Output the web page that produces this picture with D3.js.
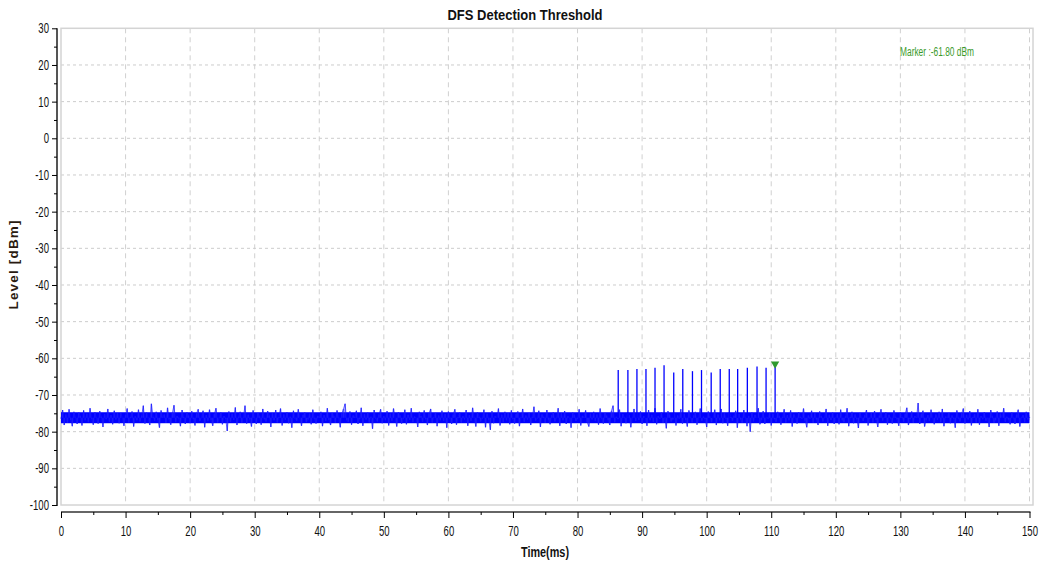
<!DOCTYPE html>
<html>
<head>
<meta charset="utf-8">
<script src="https://cdn.jsdelivr.net/npm/d3@7"></script>
<style>
  body { margin: 0; background: #fff; }
  .chart text { font-family: "Liberation Sans", Arial, sans-serif; }
</style>
</head>
<body>
<div class="chart"></div>
<script>
// Noise floor samples, one every 0.25 ms from 0 to 150 ms (dBm), one row = 5 ms
const noiseStep = 0.25;
const noiseLevels = [
  -76.4,-74.1,-78.2,-75.3,-77.6,-73.9,-76.8,-78.5,-74.6,-76.1,-77.9,-74.8,-75.7,-78.3,-74.2,-76.9,-75.1,-77.4,-73.6,-76.5,
  -78.1,-74.7,-76.3,-77.8,-74.4,-75.9,-78.7,-75.2,-76.6,-73.8,-77.3,-75.5,-78.0,-74.3,-76.7,-75.0,-77.7,-74.9,-76.2,-78.4,
  -75.4,-73.7,-77.5,-76.0,-74.5,-78.6,-75.8,-76.9,-74.0,-77.2,-75.6,-72.9,-77.8,-74.8,-76.3,-78.2,-72.4,-75.9,-77.0,-74.6,
  -76.8,-78.9,-74.2,-76.1,-75.3,-77.6,-73.5,-76.7,-78.1,-74.9,-72.8,-77.4,-75.7,-76.4,-78.5,-74.1,-76.0,-77.9,-74.7,-75.6,
  -77.7,-74.4,-76.6,-78.3,-75.0,-73.9,-77.1,-76.2,-74.3,-78.8,-75.5,-77.0,-74.0,-76.9,-78.4,-75.2,-73.6,-77.5,-76.3,-74.8,
  -78.0,-75.7,-76.5,-79.8,-74.5,-77.3,-75.1,-76.8,-73.4,-78.2,-75.9,-74.6,-77.6,-76.1,-72.9,-77.8,-75.4,-76.7,-78.6,-74.2,
  -76.3,-77.9,-74.9,-75.8,-78.1,-73.8,-76.6,-77.2,-74.4,-75.6,-78.7,-75.0,-76.9,-74.1,-77.5,-76.0,-73.7,-78.3,-75.3,-76.8,
  -74.7,-77.7,-75.9,-78.9,-74.3,-76.4,-77.0,-73.9,-76.2,-78.4,-75.4,-74.8,-77.4,-76.7,-75.1,-78.0,-74.0,-76.5,-77.8,-75.7,
  -76.1,-74.6,-78.5,-75.5,-77.1,-73.6,-76.8,-78.2,-74.9,-75.8,-77.6,-74.2,-76.3,-78.8,-75.0,-73.8,-72.4,-76.9,-77.3,-74.5,
  -78.1,-75.6,-76.0,-74.3,-77.9,-76.6,-73.5,-78.4,-75.2,-76.7,-74.8,-77.5,-75.9,-79.2,-74.1,-76.4,-77.2,-75.3,-73.9,-77.7,
  -75.8,-76.9,-74.4,-78.3,-75.1,-77.0,-73.7,-76.2,-78.6,-74.7,-75.5,-77.8,-76.5,-74.0,-78.0,-75.4,-76.8,-73.6,-77.4,-75.9,
  -76.3,-78.7,-74.6,-75.7,-77.3,-74.2,-76.6,-78.2,-75.0,-73.8,-77.6,-76.1,-74.9,-78.5,-75.6,-76.9,-74.3,-77.1,-75.2,-78.9,
  -74.5,-76.4,-77.9,-75.3,-73.9,-78.1,-76.0,-74.8,-77.5,-75.8,-76.7,-74.1,-78.4,-75.5,-77.0,-73.5,-76.3,-78.6,-74.7,-75.9,
  -77.2,-76.5,-74.0,-78.8,-75.1,-76.8,-79.5,-74.4,-77.7,-75.7,-76.2,-73.7,-78.3,-75.4,-77.4,-74.6,-76.9,-75.0,-78.0,-74.2,
  -76.6,-77.8,-75.2,-74.5,-78.5,-76.1,-73.8,-77.3,-75.6,-76.7,-74.9,-78.2,-75.9,-73.2,-77.0,-76.4,-74.3,-78.7,-75.3,-76.0,
  -77.6,-74.1,-76.8,-78.0,-75.5,-74.7,-77.2,-76.3,-73.6,-78.4,-75.0,-76.9,-74.4,-77.9,-75.8,-76.2,-78.9,-74.8,-75.4,-77.1,
  -76.5,-73.9,-78.3,-75.7,-76.0,-74.2,-77.5,-78.6,-75.1,-76.7,-74.6,-77.0,-75.3,-78.1,-73.7,-76.4,-77.8,-74.9,-75.6,-76.9,
  -78.2,-74.3,-72.9,-77.4,-75.9,-76.6,-74.0,-78.5,-75.2,-76.1,-77.7,-74.7,-75.5,-78.8,-76.3,-73.8,-77.1,-75.0,-76.8,-74.5,
  -77.9,-75.8,-76.2,-78.4,-74.1,-76.9,-75.4,-77.3,-73.6,-78.0,-75.7,-76.5,-74.8,-77.6,-76.0,-79.1,-74.4,-75.3,-77.2,-76.7,
  -74.9,-78.3,-75.6,-76.4,-73.9,-77.8,-75.1,-76.8,-78.6,-74.2,-76.1,-77.5,-75.5,-74.6,-78.1,-76.3,-73.7,-77.0,-75.9,-76.6,
  -78.7,-74.5,-75.8,-77.4,-76.2,-74.0,-78.2,-75.3,-76.9,-73.8,-77.7,-75.0,-76.5,-78.4,-74.7,-76.0,-77.1,-75.6,-74.3,-78.9,
  -75.2,-76.7,-77.6,-74.1,-76.3,-78.5,-75.7,-80.0,-74.8,-77.2,-75.4,-76.1,-73.6,-78.0,-76.8,-74.4,-77.9,-75.9,-76.4,-74.9,
  -78.3,-75.1,-76.6,-77.3,-74.6,-75.8,-78.1,-76.0,-73.9,-77.5,-75.5,-76.9,-74.2,-78.6,-75.3,-76.2,-77.8,-74.7,-75.9,-76.5,
  -73.7,-77.0,-78.8,-75.6,-76.4,-74.3,-77.6,-75.0,-76.7,-78.2,-74.5,-75.7,-77.2,-76.1,-73.8,-78.4,-75.4,-76.8,-74.8,-77.9,
  -76.3,-75.2,-78.0,-74.0,-76.9,-77.4,-75.8,-73.6,-78.5,-76.0,-74.6,-77.7,-75.3,-76.6,-79.0,-74.9,-76.2,-77.1,-75.5,-74.1,
  -78.3,-76.5,-75.0,-77.5,-74.4,-76.8,-78.7,-75.6,-73.9,-77.0,-76.1,-74.7,-78.1,-75.4,-76.4,-77.8,-74.2,-75.9,-76.7,-78.4,
  -74.8,-76.0,-77.3,-75.1,-73.5,-78.2,-76.6,-74.5,-77.6,-75.7,-76.3,-72.2,-77.9,-75.2,-74.3,-78.6,-76.9,-75.5,-77.1,-74.0,
  -76.2,-78.0,-75.3,-76.8,-74.6,-77.4,-73.8,-78.5,-75.9,-76.1,-74.9,-77.7,-75.6,-76.5,-78.9,-74.2,-76.4,-77.2,-75.0,-73.7,
  -77.8,-75.4,-76.7,-74.4,-78.3,-76.0,-75.2,-77.5,-73.9,-78.1,-75.7,-76.6,-74.7,-77.0,-76.3,-78.7,-74.1,-75.8,-77.6,-76.9,
  -74.5,-78.4,-75.1,-76.2,-73.6,-77.3,-75.9,-76.8,-78.0,-74.8,-76.4,-77.9,-75.3,-74.0,-78.6,-76.1,-75.5,-77.4,-74.6,-76.7,
  -76.0
];

// Dense core of the noise band (dBm)
const noiseBandLow = -77.7;
const noiseBandHigh = -74.7;
const noiseCenter = -76.2;

// Radar test pulses (ms, dBm)
const pulseTimes = [86.3, 87.8, 89.2, 90.6, 92.0, 93.4, 94.9, 96.3, 97.8, 99.2, 100.7, 102.1, 103.5, 104.8, 106.3, 107.8, 109.2, 110.6];
const pulseLevels = [-63.2, -63.2, -62.9, -62.9, -62.6, -61.9, -63.9, -62.9, -63.5, -63.2, -63.9, -62.9, -62.9, -62.9, -62.6, -62.2, -62.6, -61.8];

// Marker
const markerTime = 110.6;
const markerLevel = -61.8;

// Axis ticks
const xTicks = d3.range(0, 151, 10);
const xMinorTicks = d3.range(5, 150, 10);
const yTicks = d3.range(-100, 31, 10);
const yMinorTicks = d3.range(-95, 30, 10);

const width = 1041;
const height = 569;

const svg = d3.select('.chart')
  .append('svg')
  .attr('width', width)
  .attr('height', height);

const xScale = d3.scaleLinear().domain([0, 150]).range([61, 1029.5]);
const yScale = d3.scaleLinear().domain([-100, 30]).range([505, 28.3]);

const plotLeft = xScale(0);
const plotRight = xScale(150) + 3.5;
const plotTop = yScale(30);
const plotBottom = yScale(-100);

// squeeze axis labels horizontally, the original uses a narrow font
function narrow(sel, k) {
  sel.each(function () {
    const t = d3.select(this);
    const x = +t.attr('x') || 0;
    t.attr('x', 0).attr('transform', `translate(${x},0) scale(${k},1)`);
  });
}

// Grid lines
svg.append('g')
  .selectAll('line')
  .data(xTicks.filter(d => d > 0))
  .enter()
  .append('line')
  .attr('x1', d => xScale(d)).attr('x2', d => xScale(d))
  .attr('y1', plotTop).attr('y2', plotBottom)
  .attr('stroke', '#d0d0d0')
  .attr('stroke-dasharray', '5,4');

svg.append('g')
  .selectAll('line')
  .data(yTicks.filter(d => d > -100 && d < 30))
  .enter()
  .append('line')
  .attr('x1', plotLeft).attr('x2', plotRight)
  .attr('y1', d => yScale(d)).attr('y2', d => yScale(d))
  .attr('stroke', '#cccccc')
  .attr('stroke-dasharray', '3,3');

// Plot frame
svg.append('rect')
  .attr('x', plotLeft)
  .attr('y', plotTop)
  .attr('width', plotRight - plotLeft)
  .attr('height', plotBottom - plotTop)
  .attr('fill', 'none')
  .attr('stroke', '#d4d4d4')
  .attr('stroke-width', 1.5);

// Noise band
const plot = svg.append('g');

plot.append('rect')
  .attr('x', xScale(0))
  .attr('y', yScale(noiseBandHigh))
  .attr('width', xScale(150) - xScale(0))
  .attr('height', yScale(noiseBandLow) - yScale(noiseBandHigh))
  .attr('fill', '#0000ff');

// one stick per sample gives the dense texture
plot.selectAll('.stick')
  .data(noiseLevels)
  .enter()
  .append('line')
  .attr('class', 'stick')
  .attr('x1', (d, i) => xScale(i * noiseStep)).attr('x2', (d, i) => xScale(i * noiseStep))
  .attr('y1', yScale(noiseCenter))
  .attr('y2', d => yScale(d))
  .attr('stroke', '#2a2aff')
  .attr('stroke-width', 1.3)
  .attr('stroke-opacity', 0.7);

const noiseLine = d3.line()
  .x((d, i) => xScale(i * noiseStep))
  .y(d => yScale(d));

plot.append('path')
  .datum(noiseLevels)
  .attr('d', noiseLine)
  .attr('fill', 'none')
  .attr('stroke', '#1414ff')
  .attr('stroke-width', 0.8)
  .attr('stroke-opacity', 0.75);

// Pulses
plot.selectAll('.pulse')
  .data(pulseTimes)
  .enter()
  .append('line')
  .attr('class', 'pulse')
  .attr('x1', d => xScale(d)).attr('x2', d => xScale(d))
  .attr('y1', yScale(noiseCenter))
  .attr('y2', (d, i) => yScale(pulseLevels[i]))
  .attr('stroke', '#0000ff')
  .attr('stroke-width', 1.3);

// Marker triangle
svg.append('path')
  .attr('d', d3.symbol().type(d3.symbolTriangle).size(30))
  .attr('transform', `translate(${xScale(markerTime)}, ${yScale(markerLevel) - 1}) rotate(180)`)
  .attr('fill', '#2e9a2e');

svg.append('text')
  .attr('x', 900)
  .attr('y', 56)
  .attr('font-size', 12.5)
  .attr('fill', '#3a9a2a')
  .attr('textLength', 74)
  .attr('lengthAdjust', 'spacingAndGlyphs')
  .text(`Marker :${markerLevel.toFixed(2)} dBm`);

// Y axis
const yAxisX = 57;
svg.append('line')
  .attr('x1', yAxisX).attr('x2', yAxisX)
  .attr('y1', plotTop).attr('y2', plotBottom + 1)
  .attr('stroke', '#555')
  .attr('stroke-width', 2);

svg.append('g')
  .attr('transform', `translate(${yAxisX}, 0)`)
  .call(d3.axisLeft(yScale).tickValues(yMinorTicks).tickSize(3).tickFormat(''))
  .call(g => g.select('.domain').remove());

svg.append('g')
  .attr('transform', `translate(${yAxisX}, 0)`)
  .call(d3.axisLeft(yScale).tickValues(yTicks).tickSize(5).tickPadding(3).tickFormat(d => String(d)))
  .call(g => g.select('.domain').remove())
  .call(g => g.selectAll('text')
    .attr('font-size', 14.5)
    .attr('fill', '#111')
    .call(narrow, 0.66));

// X axis
const xAxisY = 512;
svg.append('line')
  .attr('x1', xScale(0)).attr('x2', xScale(150) + 1)
  .attr('y1', xAxisY).attr('y2', xAxisY)
  .attr('stroke', '#333')
  .attr('stroke-width', 1.5);

svg.append('g')
  .attr('transform', `translate(0, ${xAxisY})`)
  .call(d3.axisBottom(xScale).tickValues(xMinorTicks).tickSize(3).tickFormat(''))
  .call(g => g.select('.domain').remove());

svg.append('g')
  .attr('transform', `translate(0, ${xAxisY})`)
  .call(d3.axisBottom(xScale).tickValues(xTicks).tickSize(6).tickPadding(8).tickFormat(d => String(d)))
  .call(g => g.select('.domain').remove())
  .call(g => g.selectAll('text')
    .attr('font-size', 14.5)
    .attr('fill', '#111')
    .call(narrow, 0.66));

// Titles
svg.append('text')
  .attr('x', 525)
  .attr('y', 20)
  .attr('text-anchor', 'middle')
  .attr('font-size', 15.5)
  .attr('font-weight', 'bold')
  .attr('fill', '#111')
  .attr('textLength', 155)
  .attr('lengthAdjust', 'spacingAndGlyphs')
  .text('DFS Detection Threshold');

svg.append('text')
  .attr('x', 545)
  .attr('y', 557)
  .attr('text-anchor', 'middle')
  .attr('font-size', 14)
  .attr('font-weight', 'bold')
  .attr('fill', '#111')
  .attr('textLength', 48)
  .attr('lengthAdjust', 'spacingAndGlyphs')
  .text('Time(ms)');

svg.append('text')
  .attr('transform', 'translate(18, 265) rotate(-90)')
  .attr('text-anchor', 'middle')
  .attr('font-size', 13.5)
  .attr('font-weight', 'bold')
  .attr('fill', '#2a1a10')
  .attr('textLength', 89)
  .attr('lengthAdjust', 'spacing')
  .text('Level [dBm]');
</script>
</body>
</html>
